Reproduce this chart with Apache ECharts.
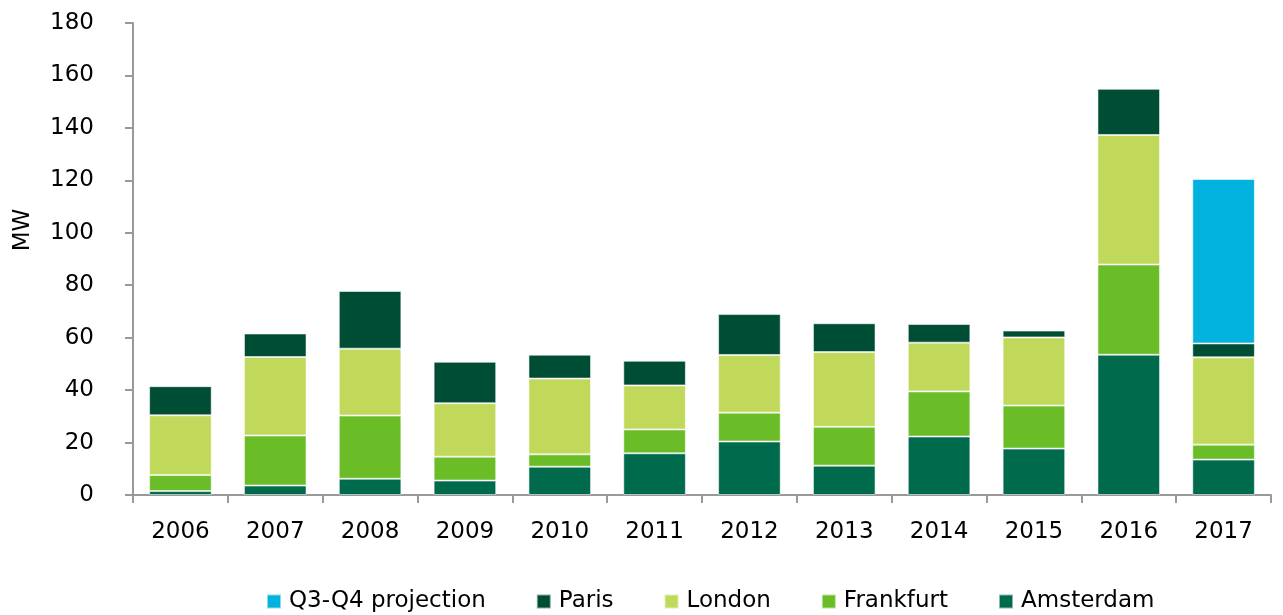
<!DOCTYPE html>
<html>
<head>
<meta charset="utf-8">
<script src="https://cdn.jsdelivr.net/npm/echarts@6/dist/echarts.min.js"></script>
<style>
  html, body { margin: 0; padding: 0; background: #fff; }
  #chart { width: 1283px; height: 615px; }
</style>
</head>
<body>
<div id="chart"></div>
<script>
const years = ['2006', '2007', '2008', '2009', '2010', '2011', '2012', '2013', '2014', '2015', '2016', '2017']
const amsterdam = [1.5, 3.6, 6.2, 5.5, 10.8, 15.9, 20.4, 11.2, 22.3, 17.7, 53.5, 13.5]
const frankfurt = [6.1, 19.1, 24.1, 9.1, 4.7, 9.1, 11.0, 14.8, 17.2, 16.4, 34.4, 5.7]
const london = [22.8, 29.9, 25.5, 20.4, 28.9, 16.8, 22.0, 28.5, 18.6, 26.0, 49.4, 33.3]
const paris = [11.1, 9.0, 22.0, 15.8, 9.1, 9.4, 15.6, 11.0, 7.1, 2.6, 17.6, 5.3]
const projection = [null, null, null, null, null, null, null, null, null, null, null, 62.7]
const legendOrder = ['Q3-Q4 projection', 'Paris', 'London', 'Frankfurt', 'Amsterdam']

const font = '"DejaVu Sans", sans-serif'
const chart = echarts.init(document.getElementById('chart'))

const bar = (name, data, color) => ({
  name,
  type: 'bar',
  stack: 'total',
  data,
  barWidth: '66%',
  itemStyle: { color, borderColor: 'rgba(255,255,255,0.55)', borderWidth: 1 }
})

chart.setOption({
  animation: false,
  textStyle: { fontFamily: font },
  grid: { left: 133, right: 12, top: 23, bottom: 120 },
  legend: {
    data: legendOrder,
    left: 261,
    top: 585,
    itemWidth: 14,
    itemHeight: 14,
    itemGap: 50,
    icon: 'rect',
    textStyle: { fontSize: 23, color: '#000', fontFamily: font, padding: [0, 0, 0, 3] }
  },
  xAxis: {
    type: 'category',
    data: years,
    axisLine: { lineStyle: { color: '#999', width: 2 } },
    axisTick: { show: true, length: 8, lineStyle: { color: '#999', width: 2 } },
    axisLabel: { fontSize: 23, color: '#000', margin: 26, fontFamily: font }
  },
  yAxis: {
    type: 'value',
    min: 0,
    max: 180,
    interval: 20,
    name: 'MW',
    nameLocation: 'middle',
    nameGap: 98,
    nameRotate: 90,
    nameTextStyle: { fontSize: 23, color: '#000', fontFamily: font, padding: [0, 0, 0, 58] },
    splitLine: { show: false },
    axisLine: { show: true, lineStyle: { color: '#999', width: 2 } },
    axisTick: { show: true, length: 8, lineStyle: { color: '#999', width: 2 } },
    axisLabel: { fontSize: 23, color: '#000', margin: 39, fontFamily: font }
  },
  series: [
    bar('Amsterdam', amsterdam, '#006A4D'),
    bar('Frankfurt', frankfurt, '#6ABD27'),
    bar('London', london, '#C0D95A'),
    bar('Paris', paris, '#004D36'),
    bar('Q3-Q4 projection', projection, '#00B2DD')
  ]
})
</script>
</body>
</html>
